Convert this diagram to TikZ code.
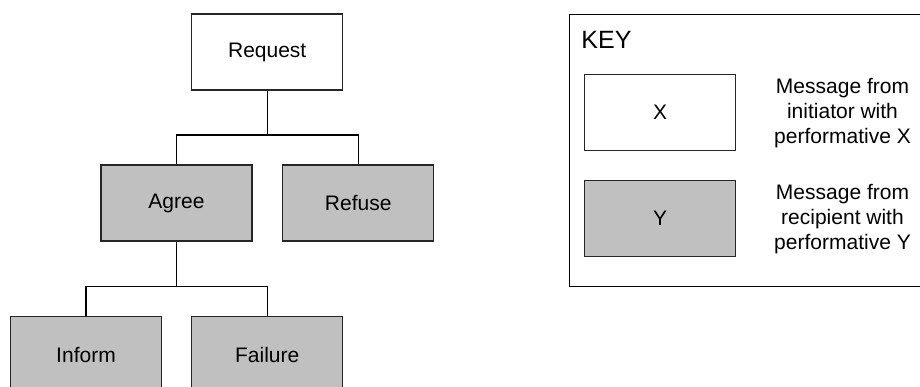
\documentclass[tikz,border=0pt]{standalone}
\usepackage{fontspec}
\setmainfont{Liberation Sans}
\definecolor{respgray}{RGB}{192,192,192}
\begin{document}
\begin{tikzpicture}[x=1pt,y=-1pt,
  every node/.style={font=\fontsize{21}{25}\selectfont},
  msg/.style={draw=black!85,line width=1.1pt,rectangle,inner sep=0pt,
    minimum width=151pt,minimum height=76pt,anchor=center},
  initmsg/.style={msg,fill=white},
  recmsg/.style={msg,fill=respgray},
  link/.style={draw=black,line width=1.2pt}]
  \useasboundingbox (0,0) rectangle (920,387);
  \clip (0,0) rectangle (920,387);

  % protocol tree
  \node[initmsg] (req)    at (267.2,52)   {Request};
  \node[recmsg]  (agree)  at (176.5,203)  {Agree};
  \node[recmsg]  (refuse) at (358.2,203)  {Refuse};
  \node[recmsg]  (inform) at (86,354.7)   {Inform};
  \node[recmsg]  (fail)   at (267.2,354.7){Failure};

  \coordinate (j1) at (267.2,135);
  \coordinate (j2) at (176.5,286.7);
  \draw[link] (req.south) -- (j1);
  \draw[link] (j1) -| (agree.north);
  \draw[link] (j1) -| (refuse.north);
  \draw[link] (agree.south) -- (j2);
  \draw[link] (j2) -| (inform.north);
  \draw[link] (j2) -| (fail.north);

  % legend
  \node[draw=black,line width=1.1pt,rectangle,inner sep=0pt,
    minimum width=400pt,minimum height=271.7pt,anchor=north west]
    (keybox) at (569.3,14) {};
  \node[anchor=base west,inner sep=0pt,font=\fontsize{25}{30}\selectfont]
    (keylbl) at (581.2,48.3) {KEY};
  \node[initmsg] (kx) at (660,112.7) {X};
  \node[recmsg]  (ky) at (660,218.3) {Y};
  \node[align=center,inner sep=0pt] (kxt) at (842.5,113.5)
    {Message from\\initiator with\\performative X};
  \node[align=center,inner sep=0pt] (kyt) at (842.5,219)
    {Message from\\recipient with\\performative Y};
\end{tikzpicture}
\end{document}
